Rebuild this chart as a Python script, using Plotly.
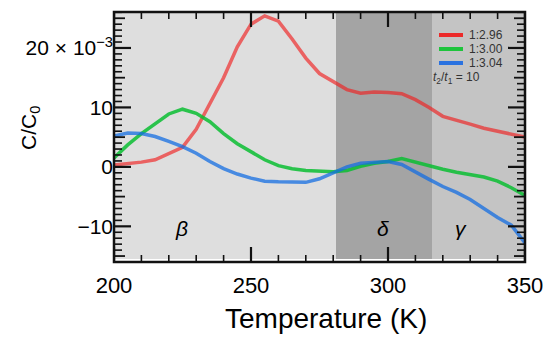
import plotly.graph_objects as go

temperature = [200, 205, 210, 215, 220, 225, 230, 235, 240, 245, 250, 255, 260, 265, 270, 275,
               280, 285, 290, 295, 300, 305, 310, 315, 320, 325, 330, 335, 340, 345, 350]
red_296 = [0.3, 0.5, 0.8, 1.2, 2.2, 3.3, 6.3, 10.5, 15.0, 20.2, 24.0, 25.4, 24.5, 21.5, 18.3, 15.7,
           14.3, 13.0, 12.4, 12.6, 12.5, 12.3, 11.3, 10.0, 8.5, 7.9, 7.2, 6.5, 6.0, 5.5, 5.0]
green_300 = [1.5, 3.7, 5.6, 7.3, 8.9, 9.7, 9.0, 7.6, 5.6, 3.9, 2.6, 1.2, 0.2, -0.3, -0.6, -0.75,
             -0.8, -0.6, 0.1, 0.6, 0.9, 1.4, 0.8, 0.1, -0.4, -0.9, -1.3, -1.7, -2.4, -3.5, -4.8]
blue_304 = [5.2, 5.7, 5.6, 5.1, 4.3, 3.4, 2.3, 0.9, -0.3, -1.2, -1.9, -2.4, -2.5, -2.5, -2.6, -2.0,
            -1.0, 0.0, 0.6, 0.8, 0.9, 0.4, -0.9, -2.1, -3.3, -4.3, -5.5, -7.0, -8.5, -9.8, -12.8]

series_names = ["1:2.96", "1:3.00", "1:3.04"]
series_colors = ["rgba(240,30,30,0.65)", "rgba(10,190,50,0.85)", "rgba(20,110,225,0.75)"]
legend_colors = ["#ec2a2a", "#1ec43c", "#2a72e0"]

region_starts = [200, 281, 316]
region_ends = [281, 316, 350]
region_fills = ["#dedede", "#a4a4a4", "#c4c4c4"]
region_labels = ["β", "δ", "γ"]
region_label_x = [224.7, 298.2, 326.6]

x_tickvals = [200, 250, 300, 350]
x_minor_tickvals = [200, 210, 220, 230, 240, 250, 260, 270, 280, 290, 300, 310, 320, 330, 340, 350]
y_tickvals = [-10, 0, 10, 20]
y_ticktext = ["−10", "0", "10", "20 × 10<sup>−3</sup>"]
y_minor_tickvals = list(range(-15, 27))

FONT = "Liberation Sans, Arial, Helvetica, sans-serif"
AXIS_COLOR = "#111111"
L, R, T, B = 114, 25, 12, 81
PW, PH = 550 - L - R, 343 - T - B
Y_LO, Y_HI = -16, 26.05
REGION_BASE = -15.5


def px_x(p):
    return (p - L) / PW


def px_y(p):
    return 1 - (p - T) / PH


fig = go.Figure()

# shaded phase regions as bars (drawn below lines)
fig.add_trace(go.Bar(
    x=[(a + b) / 2 for a, b in zip(region_starts, region_ends)],
    width=[b - a for a, b in zip(region_starts, region_ends)],
    y=[Y_HI - REGION_BASE] * len(region_starts), base=REGION_BASE,
    marker=dict(color=region_fills, line=dict(width=0)),
    showlegend=False, hoverinfo="skip"))

for name, vals, col in zip(series_names, [red_296, green_300, blue_304], series_colors):
    fig.add_trace(go.Scatter(x=temperature, y=vals, mode="lines", name=name,
                             line=dict(color=col, width=3.5), showlegend=False))

for lab, lx in zip(region_labels, region_label_x):
    fig.add_annotation(x=lx, y=-10.4, xref="x", yref="y", text=f"<i>{lab}</i>",
                       showarrow=False, font=dict(size=21, color="black", family=FONT))

# axis frame and inside ticks (all four sides)
for v in x_minor_tickvals:
    ln = 15 if v in x_tickvals else 7
    w = 2.2 if v in x_tickvals else 1.6
    for y0, y1 in [(0, ln / PH), (1, 1 - ln / PH)]:
        fig.add_shape(type="line", xref="x", yref="paper", x0=v, x1=v, y0=y0, y1=y1,
                      line=dict(color=AXIS_COLOR, width=w), layer="above")
for v in y_minor_tickvals:
    if v in y_tickvals:
        ln, w = 17, 2.2
    elif v % 5 == 0:
        ln, w = 11, 1.8
    else:
        ln, w = 8, 1.6
    for x0, x1 in [(0, ln / PW), (1, 1 - ln / PW)]:
        fig.add_shape(type="line", xref="paper", yref="y", x0=x0, x1=x1, y0=v, y1=v,
                      line=dict(color=AXIS_COLOR, width=w), layer="above")
fig.add_shape(type="rect", xref="paper", yref="paper", x0=0, x1=1, y0=0, y1=1,
              line=dict(color=AXIS_COLOR, width=2.5), fillcolor="rgba(0,0,0,0)", layer="above")

# legend (manual, compact rows)
legend_rows_px = [35, 49, 63]
for name, col, ry in zip(series_names, legend_colors, legend_rows_px):
    fig.add_shape(type="line", xref="paper", yref="paper", x0=px_x(439), x1=px_x(463),
                  y0=px_y(ry), y1=px_y(ry), line=dict(color=col, width=4), layer="above")
    fig.add_annotation(xref="paper", yref="paper", x=px_x(467), y=px_y(ry), xanchor="left",
                       yanchor="middle", showarrow=False, text=name,
                       font=dict(size=12, color="#333333", family=FONT))

fig.add_annotation(xref="paper", yref="paper", x=px_x(431), y=px_y(78),
                   xanchor="left", yanchor="middle", showarrow=False,
                   text="<i>t</i><sub>2</sub>/<i>t</i><sub>1</sub> = 10",
                   font=dict(size=12, color="#333333", family=FONT))

# axis titles
fig.add_annotation(xref="paper", yref="paper", x=px_x(326), y=px_y(318),
                   xanchor="center", yanchor="middle", showarrow=False,
                   text="Temperature (K)", font=dict(size=28, color="black", family=FONT))
fig.add_annotation(xref="paper", yref="paper", x=px_x(30), y=px_y(128),
                   xanchor="center", yanchor="middle", showarrow=False, textangle=-90,
                   text="C/C<sub>0</sub>", font=dict(size=21, color="black", family=FONT))

fig.update_layout(
    template="none",
    width=550, height=343,
    margin=dict(l=L, r=R, t=T, b=B, autoexpand=False),
    paper_bgcolor="white", plot_bgcolor="white",
    font=dict(family=FONT, color="black"),
    barmode="overlay", bargap=0,
    showlegend=False,
    xaxis=dict(range=[200, 350], tickvals=x_tickvals, ticks="inside", ticklen=3,
               tickcolor="rgba(0,0,0,0)", showline=False, showgrid=False, zeroline=False,
               tickfont=dict(size=22), automargin=False, ticklabelstandoff=8),
    yaxis=dict(range=[Y_LO, Y_HI], tickvals=y_tickvals, ticktext=y_ticktext, ticks="inside",
               ticklen=17, tickcolor="rgba(0,0,0,0)", showline=False, showgrid=False,
               zeroline=False, tickfont=dict(size=21), automargin=False),
)

fig.write_html("out.html", config={"displayModeBar": False},
               post_script="document.body.style.margin='0px';")
